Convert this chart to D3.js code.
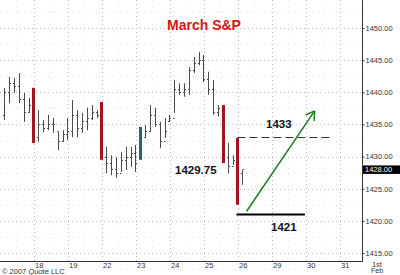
<!DOCTYPE html>
<html>
<head>
<meta charset="utf-8">
<script src="https://cdn.jsdelivr.net/npm/d3@7"></script>
<style>
  html, body { margin: 0; padding: 0; background: #fff; }
  svg { display: block; font-family: "Liberation Sans", Arial, sans-serif; }
</style>
</head>
<body>
<svg id="chart" width="400" height="275"></svg>
<script>
// ---- data (hourly bars, March S&P futures) ----
const barHigh  = [1440.7,1442.4,1442.2,1443.0,1439.9,1439.1,1440.7,1437.2,1435.7,1436.5,
                  1436.0,1433.8,1434.1,1436.0,1438.8,1437.2,1436.8,1437.6,1438.0,1437.2,
                  1438.5,1431.5,1430.2,1429.9,1430.7,1431.5,1431.5,1431.8,1434.6,1434.9,
                  1438.0,1437.6,1435.4,1436.0,1436.5,1441.9,1441.4,1441.4,1443.9,1445.5,
                  1446.3,1445.8,1443.2,1441.9,1438.0,1438.0,1432.1,1430.2,1432.9,1427.9];
const barLow   = [1435.7,1438.3,1439.9,1438.3,1435.4,1436.8,1432.1,1432.3,1433.8,1434.1,
                  1433.7,1431.0,1432.3,1432.6,1433.0,1433.0,1433.7,1434.1,1435.7,1436.0,
                  1429.5,1427.4,1427.1,1426.7,1427.6,1427.9,1428.4,1427.6,1429.5,1433.0,
                  1433.8,1434.6,1431.3,1432.9,1435.4,1436.8,1439.6,1439.3,1439.6,1443.0,
                  1444.2,1441.6,1439.6,1436.5,1436.2,1429.0,1427.4,1428.7,1422.5,1425.6];
const barOpen  = [1436.5,1440.0,1441.5,1441.0,1439.0,1437.0,1440.5,1433.0,1435.0,1434.5,
                  1435.0,1434.0,1432.5,1433.5,1434.0,1436.5,1434.5,1435.5,1436.0,1437.0,
                  1438.0,1430.0,1429.0,1428.0,1427.5,1429.5,1430.0,1430.5,1434.5,1433.0,
                  1434.0,1436.5,1435.0,1432.5,1435.5,1436.0,1440.5,1440.0,1440.5,1443.5,
                  1444.5,1445.0,1442.0,1440.5,1437.0,1438.0,1430.0,1428.5,1432.5,1427.5];
const barClose = [1440.0,1441.5,1441.0,1439.0,1437.0,1438.0,1432.5,1435.0,1434.5,1435.0,
                  1435.0,1432.5,1433.5,1434.0,1436.5,1434.5,1435.5,1436.0,1437.0,1436.5,
                  1430.0,1429.0,1428.0,1427.5,1429.5,1430.0,1430.5,1429.0,1433.0,1434.0,
                  1436.5,1435.0,1432.5,1434.0,1436.0,1440.5,1440.0,1440.5,1443.5,1444.5,
                  1445.0,1442.0,1440.5,1437.0,1437.5,1430.0,1428.5,1429.5,1423.0,1428.0];
// highlighted bars (bar number -> colour kind)
const redBars  = [7, 21, 46, 49];
const tealBars = [29];

// day labels at session boundaries (bar number of the boundary)
const dayLabels = ["18","19","22","23","24","25","26","29","30","31","1st Feb"];
const dayPos    = [7, 14, 21, 28, 35, 42, 49, 56, 63, 70, 77];

const yTicks = [1415, 1420, 1425, 1430, 1435, 1440, 1445, 1450];
const lastPrice = 1428.00;

// annotations
const levelHigh = 1433, levelLow = 1421, markValue = "1429.75";
const arrowFrom = [50.9, 1421.5], arrowTo = [64.9, 1437.1];

// ---- layout ----
const W = 400, H = 275;
const plotRight = 362, plotBottom = 261;
const svg = d3.select("#chart");

const x = d3.scaleLinear().domain([0, 70]).range([-0.6, 339.4]);
const y = d3.scaleLinear().domain([1415, 1450]).range([253, 28]);

// gridlines
const grid = svg.append("g");
const minorY = d3.range(1412.5, 1455, 2.5).filter(v => v % 5 !== 0);
grid.selectAll("line.my").data(minorY).join("line")
  .attr("x1", 0).attr("x2", plotRight)
  .attr("y1", d => Math.round(y(d)) + 0.5).attr("y2", d => Math.round(y(d)) + 0.5)
  .attr("stroke", "#e2e2e2").attr("stroke-dasharray", "1,5");
grid.selectAll("line.gy").data(yTicks).join("line")
  .attr("x1", 0).attr("x2", plotRight)
  .attr("y1", d => Math.round(y(d)) + 0.5).attr("y2", d => Math.round(y(d)) + 0.5)
  .attr("stroke", "#bdbdbd").attr("stroke-dasharray", "1,3");
const minorX = d3.range(3.5, 70, 7);
grid.selectAll("line.mx").data(minorX).join("line")
  .attr("x1", d => Math.round(x(d)) + 0.5).attr("x2", d => Math.round(x(d)) + 0.5)
  .attr("y1", 0).attr("y2", plotBottom)
  .attr("stroke", "#e2e2e2").attr("stroke-dasharray", "1,5");
grid.selectAll("line.gx").data(dayPos.filter(d => x(d) < plotRight)).join("line")
  .attr("x1", d => Math.round(x(d) + 0.6) + 0.5).attr("x2", d => Math.round(x(d) + 0.6) + 0.5)
  .attr("y1", 0).attr("y2", plotBottom)
  .attr("stroke", "#bdbdbd").attr("stroke-dasharray", "1,3");

// bars
const bars = barHigh.map((h, i) => ({n: i + 1, h, l: barLow[i], o: barOpen[i], c: barClose[i]}));
const gBars = svg.append("g");
bars.forEach(b => {
  const cx = Math.round(x(b.n)) + 0.5;
  const isRed = redBars.includes(b.n), isTeal = tealBars.includes(b.n);
  if (isRed || isTeal) {
    gBars.append("line")
      .attr("x1", cx).attr("x2", cx).attr("y1", y(b.h)).attr("y2", y(b.l))
      .attr("stroke", isRed ? "#a3141c" : "#1f6a6a").attr("stroke-width", 3);
  } else {
    gBars.append("line")
      .attr("x1", cx).attr("x2", cx).attr("y1", y(b.h)).attr("y2", y(b.l))
      .attr("stroke", "#4a4a4a").attr("stroke-width", 1);
    gBars.append("line")
      .attr("x1", cx - 1.5).attr("x2", cx).attr("y1", Math.round(y(b.o)) + 0.5).attr("y2", Math.round(y(b.o)) + 0.5)
      .attr("stroke", "#4a4a4a").attr("stroke-width", 1);
    gBars.append("line")
      .attr("x1", cx).attr("x2", cx + 1.5).attr("y1", Math.round(y(b.c)) + 0.5).attr("y2", Math.round(y(b.c)) + 0.5)
      .attr("stroke", "#4a4a4a").attr("stroke-width", 1);
  }
});

// axes lines
svg.append("line").attr("x1", plotRight + 0.5).attr("x2", plotRight + 0.5)
  .attr("y1", 0).attr("y2", plotBottom + 1).attr("stroke", "#333");
svg.append("line").attr("x1", 0).attr("x2", plotRight + 1)
  .attr("y1", plotBottom + 0.5).attr("y2", plotBottom + 0.5).attr("stroke", "#333");

// right axis with d3 axis
const yAxis = d3.axisRight(y).tickValues(yTicks).tickSize(2).tickPadding(1)
  .tickFormat(d3.format(".2f"));
const gy = svg.append("g").attr("transform", `translate(${plotRight + 0.5},0)`).call(yAxis);
gy.select(".domain").remove();
gy.selectAll("line").attr("stroke", "#333");
gy.selectAll("text").attr("fill", "#333").style("font-size", "7.5px")
  .style("font-family", "'Liberation Sans', Arial, sans-serif");

// last price box
svg.append("rect").attr("x", plotRight + 1).attr("y", y(lastPrice) - 4)
  .attr("width", W - plotRight - 1).attr("height", 8.5).attr("fill", "#000");
svg.append("text").attr("x", plotRight + 3).attr("y", y(lastPrice) + 3)
  .attr("fill", "#fff").style("font-size", "7.5px").text(d3.format(".2f")(lastPrice));

// x labels
dayLabels.forEach((lab, i) => {
  const px = Math.round(x(dayPos[i]) + 0.6);
  if (lab.indexOf(" ") > 0) {
    const parts = lab.split(" ");
    const t = svg.append("text").attr("x", px + 3).attr("y", 267)
      .attr("text-anchor", "middle").attr("fill", "#333").style("font-size", "7px");
    t.append("tspan").attr("x", px + 3).attr("dy", 0).text(parts[0]);
    t.append("tspan").attr("x", px + 3).attr("dy", 6.2).text(parts[1]);
  } else {
    svg.append("text").attr("x", px + 1).attr("y", 267.5)
      .attr("fill", "#333").style("font-size", "7.5px").text(lab);
  }
});

// copyright
svg.append("text").attr("x", 2).attr("y", 274).attr("fill", "#333")
  .style("font-size", "7.5px").text("© 2007 Quote LLC");

// title
svg.append("text").attr("x", 204).attr("y", 30).attr("text-anchor", "middle")
  .attr("fill", "#d7141a").style("font-size", "14px").style("font-weight", "bold")
  .text("March S&P");

// annotation lines
svg.append("line").attr("x1", x(49)).attr("x2", x(68))
  .attr("y1", Math.round(y(levelHigh)) + 0.5).attr("y2", Math.round(y(levelHigh)) + 0.5)
  .attr("stroke", "#333").attr("stroke-width", 1).attr("stroke-dasharray", "8,4");
svg.append("line").attr("x1", x(49) - 1).attr("x2", x(62.9))
  .attr("y1", Math.round(y(levelLow)) + 0.5).attr("y2", Math.round(y(levelLow)) + 0.5)
  .attr("stroke", "#000").attr("stroke-width", 2);

// green arrow
const ax1 = x(arrowFrom[0]), ay1 = y(arrowFrom[1]), ax2 = x(arrowTo[0]), ay2 = y(arrowTo[1]);
const green = "#1d7d1d";
svg.append("line").attr("x1", ax1).attr("y1", ay1).attr("x2", ax2).attr("y2", ay2)
  .attr("stroke", green).attr("stroke-width", 1.5);
const ang = Math.atan2(ay2 - ay1, ax2 - ax1), hl = 10;
[0.55, -0.55].forEach(da => {
  svg.append("line").attr("x1", ax2).attr("y1", ay2)
    .attr("x2", ax2 - hl * Math.cos(ang + da)).attr("y2", ay2 - hl * Math.sin(ang + da))
    .attr("stroke", green).attr("stroke-width", 1.5);
});

// annotation texts
const ann = (tx, ty, s) => svg.append("text").attr("x", tx).attr("y", ty)
  .attr("fill", "#111").style("font-size", "11.5px").style("font-weight", "bold").text(s);
ann(266, 127.5, String(levelHigh));
ann(175, 173.5, markValue);
ann(271, 230.5, String(levelLow));
</script>
</body>
</html>
